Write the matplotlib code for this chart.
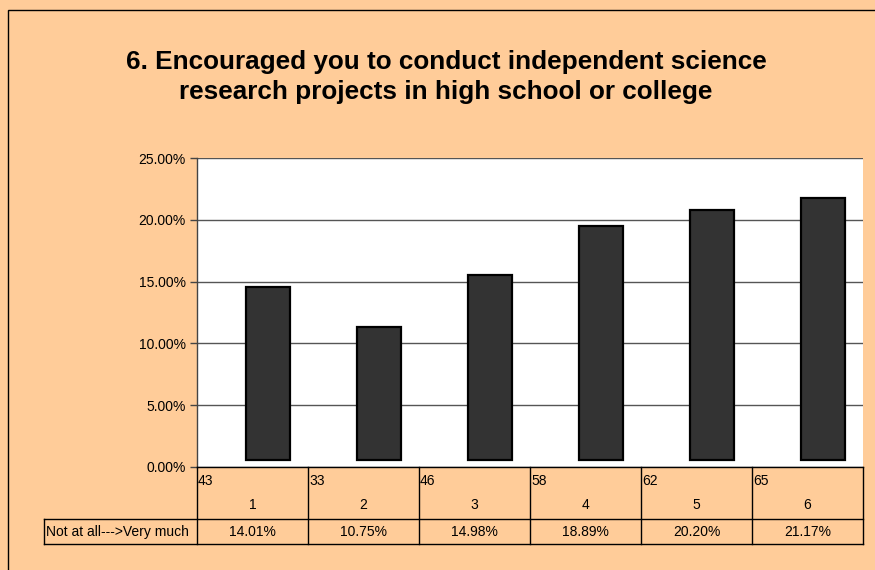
"""
Bar chart with a data table under it: survey question 6, share of answers per scale point.
"""

import matplotlib
matplotlib.use('Agg')
import matplotlib.pyplot as plt
from matplotlib.lines import Line2D
from matplotlib.patches import Rectangle

# -----------------------------------------------------
# Data

categories = ['1', '2', '3', '4', '5', '6']
counts = [43, 33, 46, 58, 62, 65]
percents = [14.01, 10.75, 14.98, 18.89, 20.20, 21.17]
tickLabels = ['0.00%', '5.00%', '10.00%', '15.00%', '20.00%', '25.00%']
rowLabel = 'Not at all--->Very much'
title = '6. Encouraged you to conduct independent science\nresearch projects in high school or college'

# -----------------------------------------------------
# Figure set-up

plt.rcParams['font.family'] = ['Liberation Sans', 'DejaVu Sans']
peach = '#FFCC99'
fs = 10

W, H = 875, 570
fig = plt.figure(figsize=(W / 100, H / 100), dpi=100, facecolor=peach)

# outer chart frame (only top and left edges visible in the picture)
fig.add_artist(Rectangle((8 / W, -0.1), 1.2, 1 - 10 / H + 0.1, transform=fig.transFigure,
                         fill=False, edgecolor='black', linewidth=1.0))

fig.text(446 / W, 1 - 77 / H, title, ha='center', va='center',
         fontsize=18.8, fontweight='bold', linespacing=1.32)

# plot area in pixels
left, right, top, bottom = 197, 863, 158, 467
ax = fig.add_axes([left / W, 1 - bottom / H, (right - left) / W, (bottom - top) / H])
ax.set_facecolor('white')

n = len(categories)
positions = list(range(n))
depthShift = 0.14   # bars look pushed right and up a little, like Excel's depth offset
baseShift = 0.58
ax.bar([p + depthShift for p in positions], percents, width=0.39, bottom=baseShift,
       color='#333333', edgecolor='black', linewidth=1.6, zorder=3)

ax.set_xlim(-0.5, n - 0.5)
ax.set_ylim(0, 25)
ax.set_yticks([0, 5, 10, 15, 20, 25])
ax.set_yticklabels(tickLabels, fontsize=fs)
ax.set_xticks([])
ax.yaxis.grid(True, color='#555555', linewidth=1.0, zorder=1)
ax.tick_params(axis='y', direction='out', length=5, width=1.0, color='#444444', pad=3)
for side in ['top', 'right', 'bottom']:
    ax.spines[side].set_visible(False)
ax.spines['left'].set_color('#444444')
ax.spines['left'].set_linewidth(1.0)

# -----------------------------------------------------
# Data table under the plot (x in data units, y in axes fraction)

trans = ax.get_xaxis_transform()
axH = bottom - top
row1 = -(519 - bottom) / axH
row2 = -(544 - bottom) / axH
labelLeft = (44 - left) / ((right - left) / n) - 0.5


def line(x0, x1, y0, y1):
    ax.add_line(Line2D([x0, x1], [y0, y1], transform=trans, color='black',
                       linewidth=1.0, clip_on=False, zorder=5))


line(-0.5, n - 0.5, 0, 0)
line(labelLeft, n - 0.5, row1, row1)
line(labelLeft, n - 0.5, row2, row2)
line(labelLeft, labelLeft, row1, row2)
for i in range(n + 1):
    line(i - 0.5, i - 0.5, 0, row2)

midRow2 = -(536 - bottom) / axH
for i in range(n):
    ax.text(i - 0.49, -(485 - bottom) / axH, str(counts[i]), transform=trans, ha='left',
            va='baseline', fontsize=fs, clip_on=False)
    ax.text(i, -(509 - bottom) / axH, categories[i], transform=trans, ha='center',
            va='baseline', fontsize=fs, clip_on=False)
    ax.text(i, midRow2, '%.2f%%' % percents[i], transform=trans, ha='center',
            va='baseline', fontsize=fs, clip_on=False)

ax.text(labelLeft + 0.02, midRow2, rowLabel, transform=trans, ha='left',
        va='baseline', fontsize=fs, clip_on=False)

fig.savefig('out.png', dpi=100, facecolor=peach)
